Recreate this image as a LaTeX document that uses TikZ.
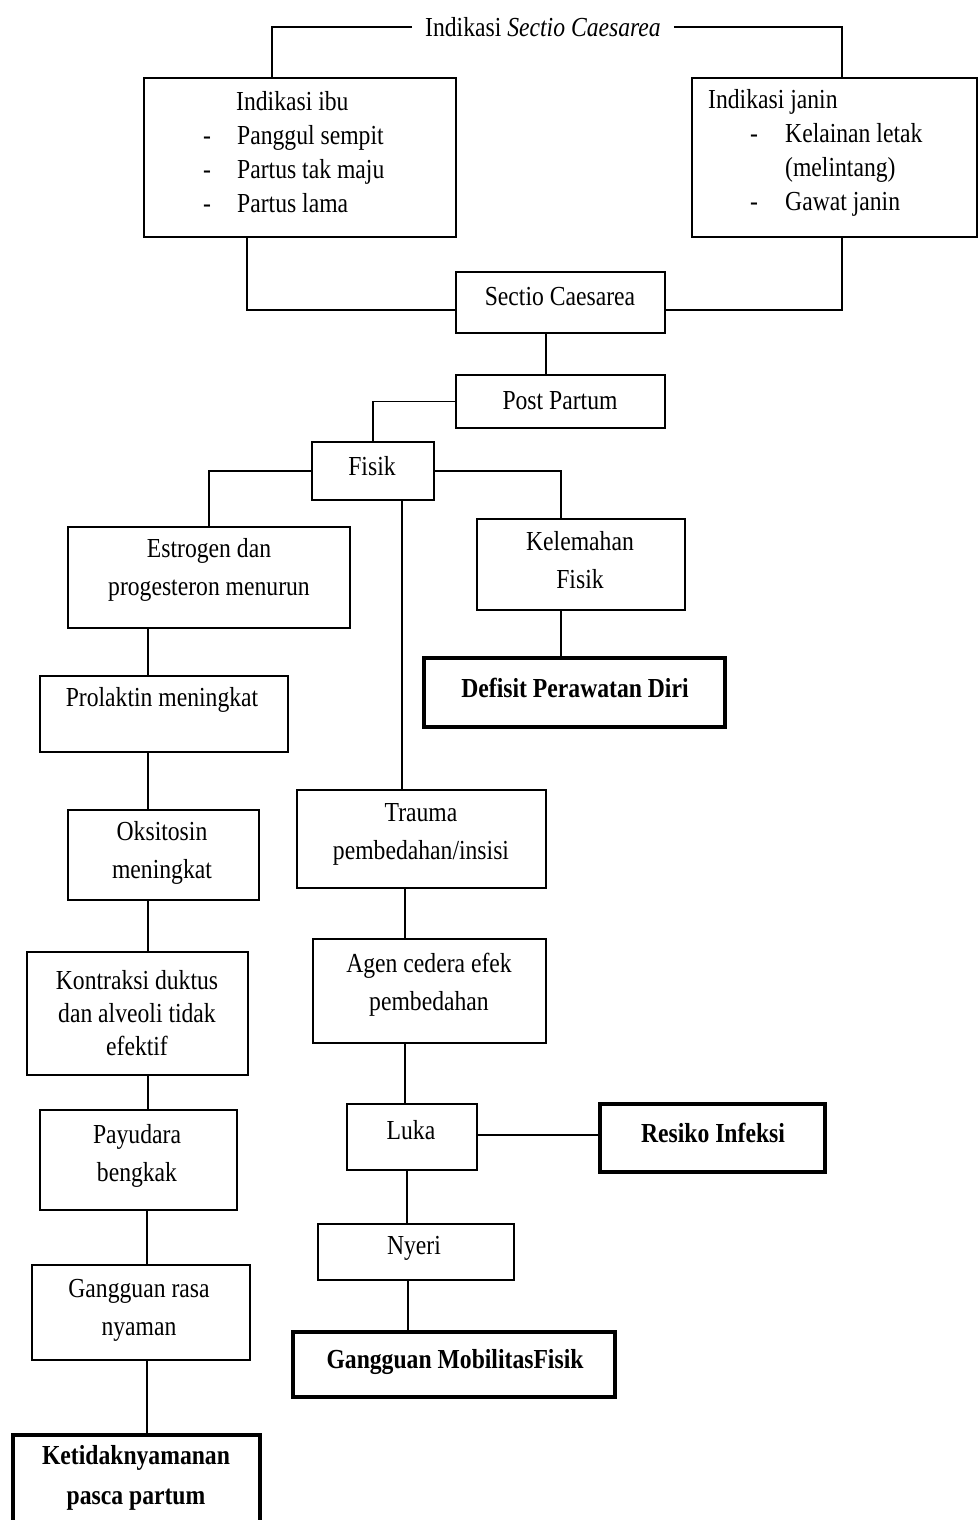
\documentclass[tikz,border=0pt]{standalone}
\usepackage{fontspec}
\setmainfont{Liberation Serif}[FakeStretch=0.86]
\usetikzlibrary{fit}
\begin{document}
\begin{tikzpicture}[x=1pt,y=-1pt,
  box/.style={draw, line width=1.7pt, inner sep=0pt},
  tbox/.style={draw, line width=3.6pt, inner sep=0pt},
  txt/.style={inner sep=0pt, align=center, font=\fontsize{27.5}{38}\selectfont},
  btxt/.style={inner sep=0pt, align=center, font=\fontsize{27.5}{40}\selectfont\bfseries},
  conn/.style={line width=1.7pt}]
\useasboundingbox (0,0) rectangle (978,1520);
% boxes
\node[box, fit={(144,78)(456,237)}] (ibu) {};
\node[box, fit={(692,78)(977,237)}] (janin) {};
\node[box, fit={(456,272)(665,333)}] (sc) {};
\node[box, fit={(456,375)(665,428)}] (pp) {};
\node[box, fit={(312,442)(434,500)}] (fisik) {};
\node[box, fit={(68,527)(350,628)}] (est) {};
\node[box, fit={(477,519)(685,610)}] (kel) {};
\node[tbox, fit={(424,658)(725,727)}] (def) {};
\node[box, fit={(40,676)(288,752)}] (prol) {};
\node[box, fit={(68,810)(259,900)}] (oks) {};
\node[box, fit={(297,790)(546,888)}] (trauma) {};
\node[box, fit={(27,952)(248,1075)}] (kon) {};
\node[box, fit={(313,939)(546,1043)}] (agen) {};
\node[box, fit={(40,1110)(237,1210)}] (pay) {};
\node[box, fit={(347,1104)(477,1170)}] (luka) {};
\node[tbox, fit={(600,1104)(825,1172)}] (res) {};
\node[box, fit={(318,1224)(514,1280)}] (nyeri) {};
\node[box, fit={(32,1265)(250,1360)}] (gr) {};
\node[tbox, fit={(293,1332)(615,1397)}] (gm) {};
\node[tbox, fit={(13,1435)(260,1532)}] (ket) {};
% texts
\node[txt, inner xsep=13pt] (title) at (543,27) {Indikasi \textit{Sectio Caesarea}};
\node[txt, align=left, anchor=west, font=\fontsize{27.5}{34}\selectfont] (ibut) at (203,152.5)
  {\hspace*{33pt}Indikasi ibu\\\makebox[34pt][l]{-}Panggul sempit\\\makebox[34pt][l]{-}Partus tak maju\\\makebox[34pt][l]{-}Partus lama};
\node[txt, align=left, anchor=west, font=\fontsize{27.5}{34}\selectfont] (janint) at (708,152.5)
  {Indikasi janin\\\hspace*{42pt}\makebox[35pt][l]{-}Kelainan letak\\\hspace*{77pt}(melintang)\\\hspace*{42pt}\makebox[35pt][l]{-}Gawat janin};
\node[txt] (sct) at (560,297) {Sectio Caesarea};
\node[txt] (ppt) at (560,401) {Post Partum};
\node[txt] (fisikt) at (372,466) {Fisik};
\node[txt] (estt) at (209,570) {Estrogen dan\\progesteron menurun};
\node[txt] (kelt) at (580,560) {Kelemahan\\Fisik};
\node[btxt] (deft) at (575,688) {Defisit Perawatan Diri};
\node[txt] (prolt) at (162,700) {Prolaktin meningkat};
\node[txt] (okst) at (162,853) {Oksitosin\\meningkat};
\node[txt] (traumat) at (421,834) {Trauma\\pembedahan/insisi};
\node[txt, font=\fontsize{27.5}{33}\selectfont] (kont) at (137,1013) {Kontraksi duktus\\dan alveoli tidak\\efektif};
\node[txt] (agent) at (429,985) {Agen cedera efek\\pembedahan};
\node[txt] (payt) at (137,1156) {Payudara\\bengkak};
\node[txt] (lukat) at (411,1130) {Luka};
\node[btxt] (rest) at (713,1133) {Resiko Infeksi};
\node[txt] (nyerit) at (414,1248) {Nyeri};
\node[txt] (grt) at (139,1310) {Gangguan rasa\\nyaman};
\node[btxt] (gmt) at (455,1362) {Gangguan MobilitasFisik};
\node[btxt] (kett) at (136,1478) {Ketidaknyamanan\\pasca partum};
% connectors
\draw[conn] (title.west) -| ([xshift=-28pt]ibu.north);
\draw[conn] (title.east) -| ([xshift=7.5pt]janin.north);
\draw[conn] ([xshift=-53pt]ibu.south) |- ([yshift=-7.5pt]sc.west);
\draw[conn] ([xshift=7.5pt]janin.south) |- ([yshift=-7.5pt]sc.east);
\draw[conn] ([xshift=-14.5pt]sc.south) -- ([xshift=-14.5pt]pp.north);
\draw[conn] (pp.west) -| (fisik.north);
\draw[conn] (fisik.west) -| (est.north);
\draw[conn] (fisik.east) -| ([xshift=-20pt]kel.north);
\draw[conn] ([xshift=29pt]fisik.south) -- ([xshift=-19.5pt]trauma.north);
\draw[conn] ([xshift=-61pt]est.south) -- ([xshift=-16pt]prol.north);
\draw[conn] ([xshift=-16pt]prol.south) -- ([xshift=-15.5pt]oks.north);
\draw[conn] ([xshift=-15.5pt]oks.south) -- ([xshift=10.5pt]kon.north);
\draw[conn] ([xshift=10.5pt]kon.south) -- ([xshift=9.5pt]pay.north);
\draw[conn] ([xshift=8.5pt]pay.south) -- ([xshift=6pt]gr.north);
\draw[conn] ([xshift=6pt]gr.south) -- ([xshift=10.5pt]ket.north);
\draw[conn] ([xshift=-20pt]kel.south) -- ([xshift=-13.5pt]def.north);
\draw[conn] ([xshift=-16.5pt]trauma.south) -- ([xshift=-24.5pt]agen.north);
\draw[conn] ([xshift=-24.5pt]agen.south) -- ([xshift=-7pt]luka.north);
\draw[conn] ([yshift=2pt]luka.east) -- ([yshift=3pt]res.west);
\draw[conn] ([xshift=-5pt]luka.south) -- ([xshift=-9pt]nyeri.north);
\draw[conn] ([xshift=-8pt]nyeri.south) -- ([xshift=-46pt]gm.north);
\end{tikzpicture}
\end{document}
